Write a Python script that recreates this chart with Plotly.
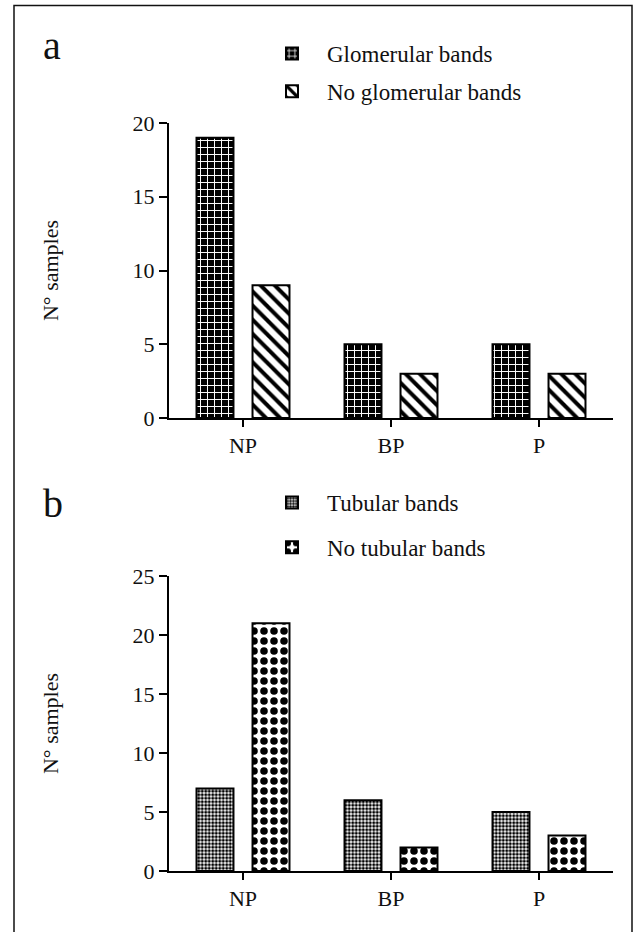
import plotly.graph_objects as go

categories = ["NP", "BP", "P"]
glom_bands = [19, 5, 5]
no_glom_bands = [9, 3, 3]
tub_bands = [7, 6, 5]
no_tub_bands = [21, 2, 3]

FONT = "Liberation Serif"
W, H = 643, 932
ML, MR, MT, MB = 169, 30, 123, 61
PW = W - ML - MR
PH = H - MT - MB

def px_x(x):
    return (x - ML) / PW

def px_y(y):
    return (H - MB - y) / PH

fig = go.Figure()

fig.add_trace(go.Bar(
    x=categories, y=glom_bands, name="Glomerular bands",
    xaxis="x", yaxis="y", legend="legend", legendgroup="g1",
    marker=dict(color="black", line=dict(color="black", width=2),
                pattern=dict(shape="+", fgcolor="white", bgcolor="black",
                             size=7, solidity=0.26, fillmode="replace")),
))
fig.add_trace(go.Bar(
    x=categories, y=no_glom_bands, name="No glomerular bands",
    xaxis="x", yaxis="y", legend="legend", legendgroup="g2",
    marker=dict(color="white", line=dict(color="black", width=2),
                pattern=dict(shape="\\", fgcolor="black", bgcolor="white",
                             size=10, solidity=0.4, fillmode="replace")),
))
fig.add_trace(go.Bar(
    x=categories, y=tub_bands, name="Tubular bands",
    xaxis="x2", yaxis="y2", legend="legend2", legendgroup="t1",
    marker=dict(color="white", line=dict(color="black", width=2),
                pattern=dict(shape=".", fgcolor="black", bgcolor="white",
                             size=3.5, solidity=0.6, fillmode="replace")),
))
fig.add_trace(go.Bar(
    x=categories, y=no_tub_bands, name="No tubular bands",
    xaxis="x2", yaxis="y2", legend="legend2", legendgroup="t2",
    marker=dict(color="white", line=dict(color="black", width=2),
                pattern=dict(shape=".", fgcolor="black", bgcolor="white",
                             size=10, solidity=0.45, fillmode="replace")),
))

axis_common = dict(showline=True, linecolor="black", linewidth=2,
                   ticks="outside", tickcolor="black", tickwidth=2,
                   showgrid=False, zeroline=False, automargin=False,
                   tickfont=dict(family=FONT, size=22, color="#111"))

ya_top = px_y(418)
yb_top = px_y(576)

fig.update_layout(
    width=W, height=H,
    margin=dict(l=ML, r=MR, t=MT, b=MB, autoexpand=False),
    paper_bgcolor="white", plot_bgcolor="white",
    barmode="group", bargap=0.243, bargroupgap=0.34,
    font=dict(family=FONT, size=22, color="#111"),
    xaxis=dict(domain=[0, 1], anchor="y", ticklen=7, **axis_common),
    yaxis=dict(domain=[ya_top, 1], anchor="x", range=[0, 20], dtick=5, ticklen=8,
               title=dict(text="N° samples", font=dict(family=FONT, size=22, color="#111"),
                          standoff=68),
               **axis_common),
    xaxis2=dict(domain=[0, 1], anchor="y2", ticklen=7, **axis_common),
    yaxis2=dict(domain=[0, yb_top], anchor="x2", range=[0, 25], dtick=5, ticklen=8,
                title=dict(text="N° samples", font=dict(family=FONT, size=22, color="#111"),
                           standoff=68),
                **axis_common),
    legend=dict(x=px_x(257), y=px_y(32), xanchor="left", yanchor="top", itemwidth=60,
                font=dict(family=FONT, size=23, color="#111"),
                traceorder="grouped", tracegroupgap=5, bgcolor="rgba(0,0,0,0)"),
    legend2=dict(x=px_x(257), y=px_y(481), xanchor="left", yanchor="top", itemwidth=60,
                 font=dict(family=FONT, size=23, color="#111"),
                 traceorder="grouped", tracegroupgap=12, bgcolor="rgba(0,0,0,0)"),
    annotations=[
        dict(text="a", xref="paper", yref="paper", x=px_x(52), y=px_y(45),
             xanchor="center", yanchor="middle", showarrow=False,
             font=dict(family=FONT, size=40, color="#111")),
        dict(text="b", xref="paper", yref="paper", x=px_x(53), y=px_y(503),
             xanchor="center", yanchor="middle", showarrow=False,
             font=dict(family=FONT, size=40, color="#111")),
    ],
    shapes=[
        dict(type="rect", xref="paper", yref="paper",
             x0=px_x(14), x1=px_x(632), y0=px_y(940), y1=px_y(5.5),
             line=dict(color="#111", width=1.5), fillcolor="rgba(0,0,0,0)", layer="below"),
    ],
)

fig.write_html("out.html", config={"displayModeBar": False},
               post_script="document.body.style.margin='0';document.body.style.padding='0';")
